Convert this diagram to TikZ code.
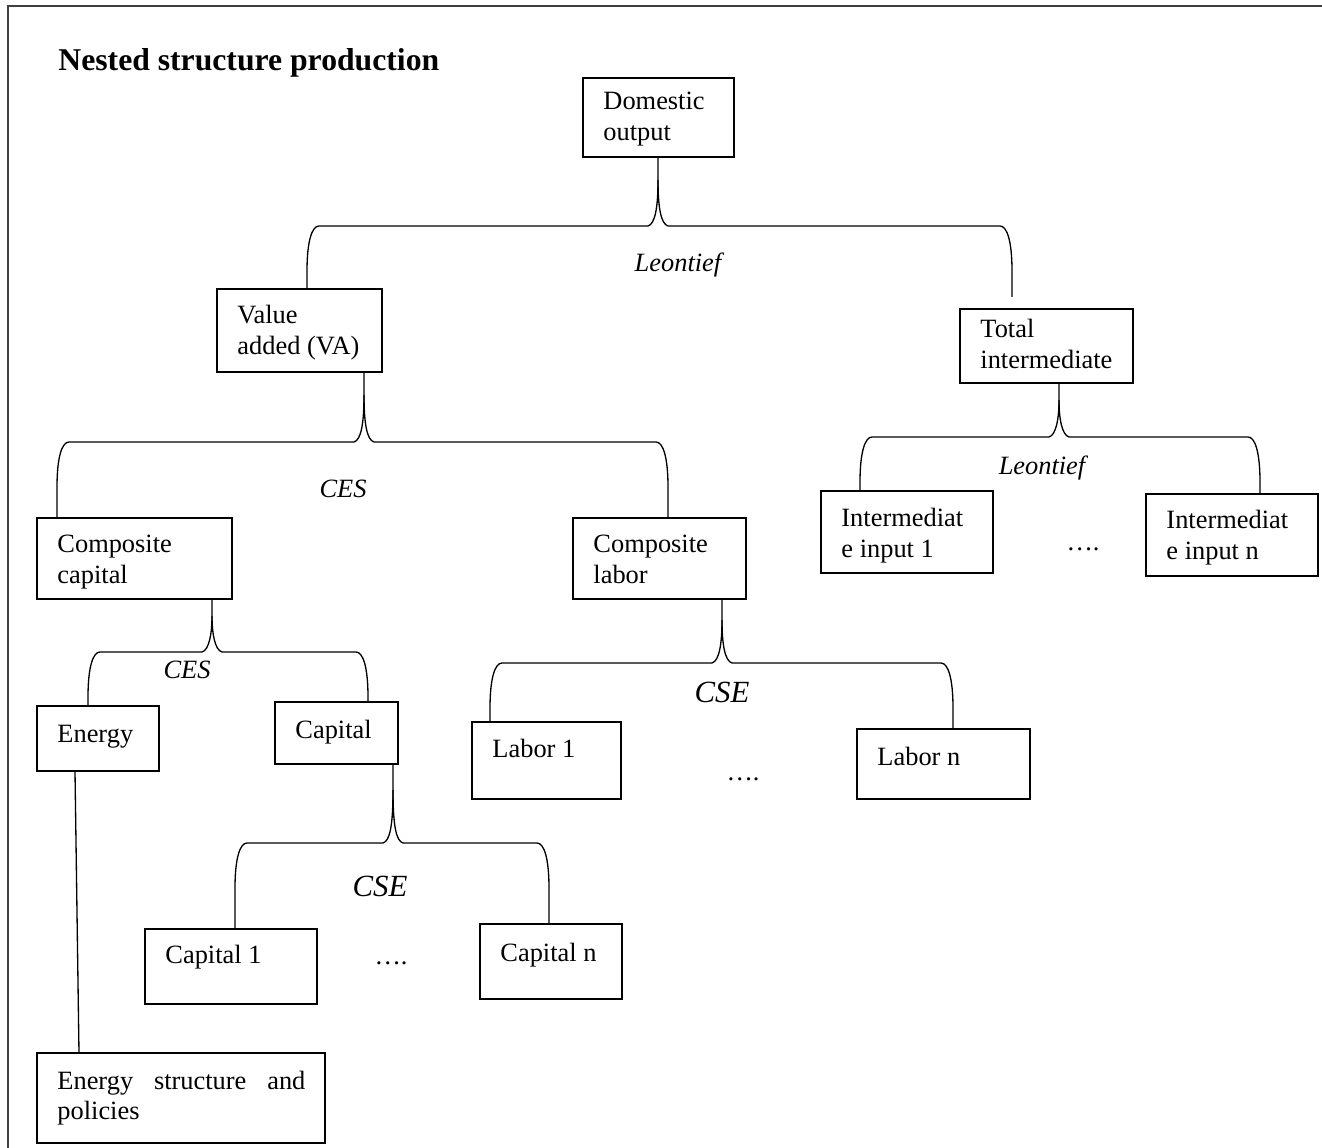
\documentclass[tikz,border=0pt]{standalone}
\usepackage{fontspec}
\setmainfont{Liberation Serif}

% one drawing unit (pixel) in points
\newcommand\px[1]{(#1)*0.4545pt}

\tikzset{
  frame/.style={line width=0.9pt, draw=black!75},
  cellbox/.style={draw, line width=0.6pt, inner sep=0pt, outer sep=0pt},
  celltext/.style={inner sep=0pt, font=\fontsize{12}{14}\selectfont},
  conn/.style={line width=0.6pt},
  law/.style={inner sep=0pt, anchor=base, font=\fontsize{12}{14}\selectfont\itshape},
  lawbig/.style={law, font=\fontsize{14}{16}\selectfont\itshape},
  dotsep/.style={inner sep=0pt, anchor=base, font=\fontsize{12}{14}\selectfont},
  heading/.style={inner sep=0pt, anchor=base west, font=\fontsize{14.4}{16}\selectfont\bfseries},
}

% box: name, x1, y1, x2, y2, first baseline offset, text
\newcommand\cell[7]{%
  \node[cellbox, anchor=north west,
        minimum width={\px{#4-#2}}, minimum height={\px{#5-#3}}] (#1) at (#2,#3) {};
  \node[celltext, anchor=base west] (#1-t) at (#2+20,#3+#6)
    {\begin{tabular}[t]{@{}l@{}}#7\end{tabular}};
}

% nest connector: parent, stem x, split y, bar y, left x, left end, right x, right end
\newcommand\fork[8]{%
  \draw[conn] (#2,0 |- #1.south) -- (#2,#3)
    .. controls (#2,#4-18) and (#2-3,#4-2) .. (#2-10,#4) -- (#5+12,#4)
    .. controls (#5+5,#4) and (#5,#4+15) .. (#5,#4+45) -- (#5,0 |- #6);
  \draw[conn] (#2,#3)
    .. controls (#2,#4-18) and (#2+3,#4-2) .. (#2+10,#4) -- (#7-12,#4)
    .. controls (#7-5,#4) and (#7,#4+15) .. (#7,#4+45) -- (#7,0 |- #8);
}

\begin{document}
\begin{tikzpicture}[x=0.4545pt, y=-0.4545pt]
\useasboundingbox (0,0) rectangle (1322,1148);

% page frame
\draw[frame] (8,1148) -- (8,6) -- (1322,6);

\node[heading] (title) at (58,71) {Nested structure production};

% boxes
\cell{dom}{583}{78}{734}{157}{32}{Domestic\\output}
\cell{va}{217}{289}{382}{372}{35}{Value\\added (VA)}
\cell{ti}{960}{309}{1133}{383}{29}{Total\\intermediate}
\cell{ccap}{37}{518}{232}{599}{35}{Composite\\capital}
\cell{clab}{573}{518}{746}{599}{35}{Composite\\labor}
\cell{ii1}{821}{491}{993}{573}{36}{Intermediat\\e input 1}
\cell{iin}{1146}{494}{1318}{576}{35}{Intermediat\\e input n}
\cell{en}{37}{706}{159}{771}{36}{Energy}
\cell{cap}{275}{702}{398}{764}{36}{Capital}
\cell{lab1}{472}{722}{621}{799}{35}{Labor 1}
\cell{labn}{857}{729}{1030}{799}{36}{Labor n}
\cell{cap1}{145}{929}{317}{1004}{34}{Capital 1}
\cell{capn}{480}{924}{622}{999}{37}{Capital n}
\cell{esp}{37}{1053}{325}{1143}{36}{\makebox[112.7pt][s]{Energy\hfill structure\hfill and}\\policies}

% connectors
\coordinate (tiend) at (1012,297);
\fork{dom}{658}{180}{226}{307}{va.north}{1012}{tiend}
\fork{va}{364}{395}{442}{57}{ccap.north}{668}{clab.north}
\fork{ti}{1059}{400}{437}{860}{ii1.north}{1260}{iin.north}
\fork{ccap}{212}{616}{652}{88}{en.north}{368}{cap.north}
\fork{clab}{722}{620}{663}{490}{lab1.north}{953}{labn.north}
\fork{cap}{393}{790}{843}{235}{cap1.north}{549}{capn.north}
\draw[conn] (75,0 |- en.south) -- (79,0 |- esp.north);

% function labels
\node[law] (l1) at (678,272) {Leontief};
\node[law] (l2) at (1042,475) {Leontief};
\node[law] (l3) at (343,498) {CES};
\node[law] (l4) at (187,679) {CES};
\node[lawbig] (l5) at (722,702) {CSE};
\node[lawbig] (l6) at (380,896) {CSE};

% ellipses
\node[dotsep] (d1) at (743,780) {….};
\node[dotsep] (d2) at (391,964) {….};
\node[dotsep] (d3) at (1083,551) {….};
\end{tikzpicture}
\end{document}
